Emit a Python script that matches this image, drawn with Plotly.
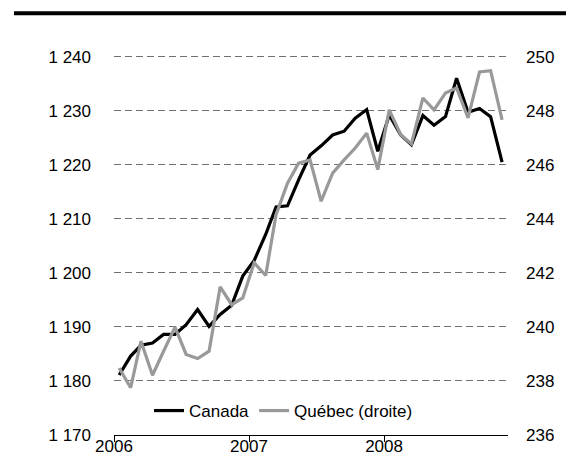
import pandas as pd
import plotly.graph_objects as go

months = pd.date_range("2006-01-01", periods=35, freq="MS") + pd.Timedelta(days=14)

canada = [1181.1, 1184.6, 1186.6, 1187.0, 1188.6, 1188.6, 1190.4, 1193.2, 1190.1, 1192.3,
          1194.0, 1199.4, 1202.3, 1207.1, 1212.2, 1212.4, 1217.2, 1221.8, 1223.5, 1225.5,
          1226.2, 1228.6, 1230.2, 1222.5, 1229.2, 1225.5, 1223.7, 1229.1, 1227.3, 1228.9,
          1236.0, 1229.7, 1230.4, 1228.9, 1220.5]

quebec = [238.48, 237.75, 239.47, 238.21, 239.1, 239.99, 238.98, 238.83, 239.10, 241.48,
          240.82, 241.07, 242.37, 241.90, 244.15, 245.32, 246.06, 246.18, 244.65, 245.69,
          246.18, 246.62, 247.17, 245.82, 248.03, 247.11, 246.77, 248.47, 248.03, 248.65,
          248.84, 247.73, 249.43, 249.48, 247.66]

left_ticks = [1170, 1180, 1190, 1200, 1210, 1220, 1230, 1240]
left_labels = ["1 170", "1 180", "1 190", "1 200", "1 210", "1 220", "1 230", "1 240"]
right_ticks = [236, 238, 240, 242, 244, 246, 248, 250]
year_ticks = ["2006-01-01", "2007-01-01", "2008-01-01"]
year_labels = ["2006", "2007", "2008"]

FONT = "Liberation Sans, Arial, sans-serif"

fig = go.Figure()
fig.add_trace(go.Scatter(x=months, y=canada, name="Canada", mode="lines",
                         line=dict(color="black", width=3.2), yaxis="y"))
fig.add_trace(go.Scatter(x=months, y=quebec, name="Québec (droite)", mode="lines",
                         line=dict(color="#999999", width=3.2), yaxis="y2"))

W, H = 574, 465
EXT = 0.3  # small headroom so the top gridline is drawn
l, r, b = 106, 74, 38
t = 48.5 - EXT * (427 - 48.5) / 70
pw, ph = W - l - r, H - t - b

fig.update_layout(
    width=W, height=H,
    margin=dict(l=l, r=r, t=t, b=b, pad=0),
    paper_bgcolor="white", plot_bgcolor="white",
    font=dict(family=FONT, size=17, color="black"),
    showlegend=True,
    legend=dict(orientation="h", x=(141 - l) / pw, xanchor="left",
                y=(427 - 403) / ph, yanchor="middle",
                bgcolor="rgba(0,0,0,0)", font=dict(size=17),
                itemwidth=30, tracegroupgap=0),
    xaxis=dict(type="date", range=["2006-01-01", "2008-12-01"],
               tickvals=year_ticks, ticktext=year_labels,
               ticks="outside", ticklen=6, tickcolor="black", tickwidth=1,
               showline=True, linecolor="black", linewidth=1,
               showgrid=False, zeroline=False, ticklabelstandoff=-10),
    yaxis=dict(range=[1170, 1240 + EXT], tickvals=left_ticks, ticktext=left_labels,
               showgrid=True, gridcolor="#707070", gridwidth=1, griddash="7px,4px",
               showline=False, zeroline=False, ticks="", ticklabelstandoff=22),
    yaxis2=dict(range=[236, 250 + EXT / 5], tickvals=right_ticks, overlaying="y", side="right",
                showgrid=False, showline=False, zeroline=False, ticks="",
                ticklabelstandoff=17),
    shapes=[dict(type="line", xref="paper", yref="paper",
                 x0=(6 - l) / pw, x1=(574 - l) / pw,
                 y0=(H - b - 5) / ph, y1=(H - b - 5) / ph,
                 line=dict(color="black", width=4))],
)

fig.write_html("out.html")
